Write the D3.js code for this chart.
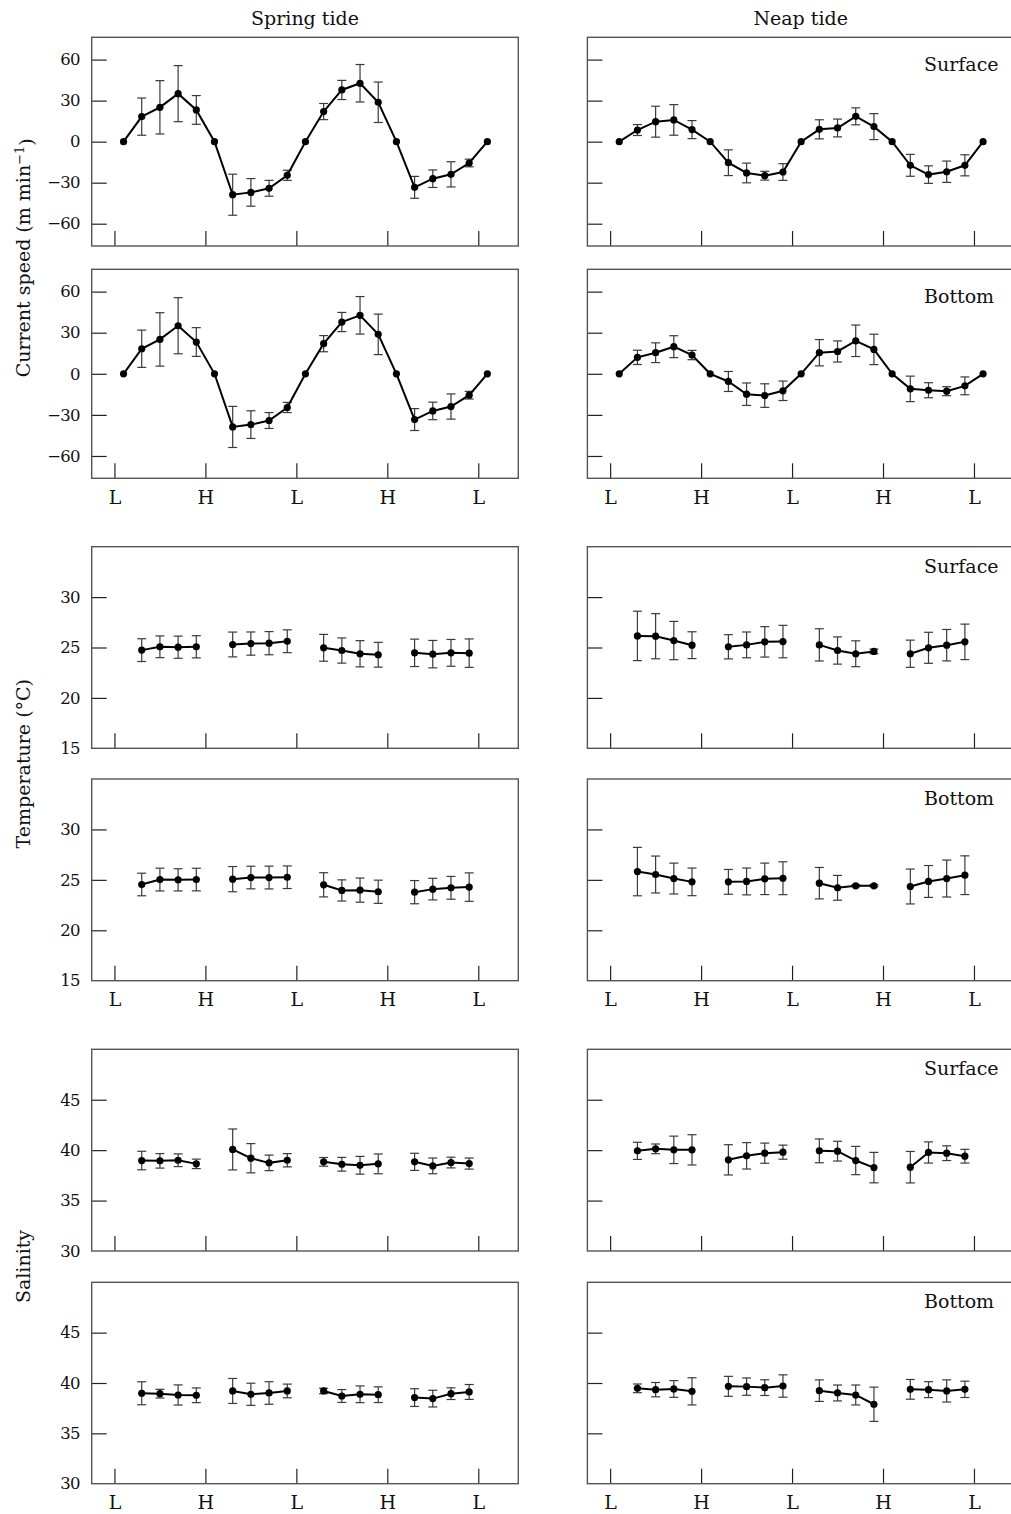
<!DOCTYPE html>
<html><head><meta charset="utf-8">
<script src="https://cdn.jsdelivr.net/npm/d3@7"></script>
<style>
html,body{margin:0;padding:0;background:#fff;}
svg{display:block;}
text{font-family:"DejaVu Serif",serif;fill:#111;}
</style></head>
<body>
<svg id="chart" width="1011" height="1514"></svg>
<script>
// ---------------- DATA ----------------
const columnTitles = ["Spring tide", "Neap tide"];
const depthLabels = ["Surface", "Bottom"];
const tideTickValues = [0, 1, 2, 3, 4];
const tideTickLabels = ["L", "H", "L", "H", "L"];

// tide phase of each hourly speed sample (L = 0, H = 1, ...)
const speedPhase = [0.1,0.3,0.5,0.7,0.9,1.1,1.3,1.5,1.7,1.9,2.1,2.3,2.5,2.7,2.9,3.1,3.3,3.5,3.7,3.9,4.1];

const speedSpringSurface    = [0,18.3,25.1,35.1,23.2,0,-38.8,-37.1,-34.1,-24.6,0,22.0,37.8,42.7,28.8,0,-33.4,-27.1,-23.9,-15.6,0];
const speedSpringSurfaceErr = [0,13.6,19.5,20.5,10.5,0,15.0,10.1,5.8,3.7,0,5.9,7.0,13.7,14.8,0,8.0,6.4,9.2,2.8,0];
const speedSpringBottom     = [0,18.3,25.1,35.1,23.2,0,-38.8,-37.1,-34.1,-24.6,0,22.0,37.8,42.7,28.8,0,-33.4,-27.1,-23.9,-15.6,0];
const speedSpringBottomErr  = [0,13.6,19.5,20.5,10.5,0,15.0,10.1,5.8,3.7,0,5.9,7.0,13.7,14.8,0,8.0,6.4,9.2,2.8,0];
const speedNeapSurface      = [0,8.5,14.6,15.9,8.8,0,-15.4,-22.9,-24.9,-22.2,0,9.0,10.0,18.5,11.0,0,-17.3,-24.1,-22.0,-17.3,0];
const speedNeapSurfaceErr   = [0,4.0,11.3,11.2,6.6,0,9.4,7.2,3.2,6.1,0,7.0,6.5,6.2,9.5,0,8.0,6.4,7.8,7.7,0];
const speedNeapBottom       = [0,12.0,15.4,19.8,13.7,0,-5.6,-14.9,-15.9,-12.4,0,15.4,16.3,24.1,17.8,0,-11.0,-12.0,-12.7,-8.8,0];
const speedNeapBottomErr    = [0,5.2,7.2,8.0,3.4,0,7.3,8.2,8.6,7.1,0,9.6,7.7,11.5,11.1,0,9.3,5.5,3.3,6.5,0];

// tide phase of the temperature / salinity samples, in four groups
const tsPhase = [0.3,0.5,0.7,0.9, 1.3,1.5,1.7,1.9, 2.3,2.5,2.7,2.9, 3.3,3.5,3.7,3.9];
const tsGroup = [0,0,0,0, 1,1,1,1, 2,2,2,2, 3,3,3,3];

const tempSpringSurface    = [24.74,25.07,25.03,25.07, 25.30,25.39,25.43,25.62, 24.97,24.70,24.38,24.28, 24.47,24.34,24.47,24.44];
const tempSpringSurfaceErr = [1.13,1.08,1.10,1.10, 1.23,1.15,1.15,1.13, 1.33,1.25,1.30,1.23, 1.36,1.36,1.33,1.41];
const tempNeapSurface      = [26.15,26.12,25.69,25.23, 25.07,25.26,25.56,25.59, 25.26,24.70,24.38,24.61, 24.38,24.97,25.23,25.56];
const tempNeapSurfaceErr   = [2.45,2.24,1.90,1.33, 1.20,1.28,1.51,1.61, 1.60,1.35,1.28,0.23, 1.35,1.54,1.56,1.76];
const tempSpringBottom     = [24.54,25.03,25.00,25.03, 25.07,25.23,25.23,25.26, 24.51,23.95,23.98,23.82, 23.78,24.08,24.21,24.28];
const tempSpringBottomErr  = [1.12,1.13,1.10,1.12, 1.25,1.12,1.13,1.12, 1.20,1.05,1.20,1.15, 1.15,1.07,1.13,1.41];
const tempNeapBottom       = [25.82,25.53,25.13,24.80, 24.80,24.84,25.10,25.16, 24.67,24.21,24.41,24.41, 24.34,24.84,25.13,25.46];
const tempNeapBottomErr    = [2.40,1.83,1.53,1.37, 1.23,1.33,1.56,1.63, 1.56,1.23,0.10,0.10, 1.73,1.58,1.83,1.92];

const salSpringSurface    = [38.97,38.94,39.00,38.64, 40.07,39.20,38.74,39.00, 38.84,38.60,38.50,38.64, 38.84,38.44,38.77,38.67];
const salSpringSurfaceErr = [0.92,0.72,0.63,0.47, 2.03,1.45,0.77,0.66, 0.43,0.68,0.88,0.98, 0.85,0.78,0.53,0.55];
const salNeapSurface      = [39.93,40.13,40.03,40.03, 39.04,39.44,39.70,39.80, 39.93,39.90,38.97,38.27, 38.31,39.77,39.70,39.40];
const salNeapSurfaceErr   = [0.85,0.48,1.36,1.50, 1.50,1.31,1.00,0.70, 1.18,0.98,1.40,1.51, 1.56,1.05,0.73,0.68];
const salSpringBottom     = [38.98,38.94,38.81,38.78, 39.21,38.88,39.01,39.21, 39.21,38.71,38.88,38.84, 38.55,38.45,38.94,39.11];
const salSpringBottomErr  = [1.14,0.43,1.00,0.73, 1.24,1.10,1.12,0.68, 0.27,0.64,0.83,0.78, 0.88,0.83,0.58,0.74];
const salNeapBottom       = [39.47,39.34,39.41,39.17, 39.67,39.64,39.54,39.70, 39.24,39.01,38.81,37.89, 39.37,39.34,39.21,39.37];
const salNeapBottomErr    = [0.43,0.71,0.83,1.35, 0.99,0.86,0.78,1.11, 1.07,0.79,0.99,1.70, 0.98,0.79,1.10,0.81];

const speedTicks = [-60, -30, 0, 30, 60];
const tempTicks = [15, 20, 25, 30];
const salTicks = [30, 35, 40, 45];
const speedDomain = [-76.3, 76.3];
const tempDomain = [15, 35];
const salDomain = [30, 50];
const yTitles = ["Current speed (m min", "Temperature (°C)", "Salinity"];

// ---------------- LAYOUT ----------------
const svg = d3.select("#chart");
const colX = [[91.7, 518.3], [587.4, 1014.0]];
const xDomain = [-0.25, 4.44];
const rowY = [[37.3, 246], [269.3, 478.3], [546.7, 748.3], [779, 980.7], [1049.3, 1251], [1282.3, 1483.7]];

const panels = [
  {row:0,col:0,x:speedPhase,y:speedSpringSurface,e:speedSpringSurfaceErr,dom:speedDomain,ticks:speedTicks,grp:null,lab:null},
  {row:0,col:1,x:speedPhase,y:speedNeapSurface,e:speedNeapSurfaceErr,dom:speedDomain,ticks:speedTicks,grp:null,lab:0},
  {row:1,col:0,x:speedPhase,y:speedSpringBottom,e:speedSpringBottomErr,dom:speedDomain,ticks:speedTicks,grp:null,lab:null},
  {row:1,col:1,x:speedPhase,y:speedNeapBottom,e:speedNeapBottomErr,dom:speedDomain,ticks:speedTicks,grp:null,lab:1},
  {row:2,col:0,x:tsPhase,y:tempSpringSurface,e:tempSpringSurfaceErr,dom:tempDomain,ticks:tempTicks,grp:tsGroup,lab:null},
  {row:2,col:1,x:tsPhase,y:tempNeapSurface,e:tempNeapSurfaceErr,dom:tempDomain,ticks:tempTicks,grp:tsGroup,lab:0},
  {row:3,col:0,x:tsPhase,y:tempSpringBottom,e:tempSpringBottomErr,dom:tempDomain,ticks:tempTicks,grp:tsGroup,lab:null},
  {row:3,col:1,x:tsPhase,y:tempNeapBottom,e:tempNeapBottomErr,dom:tempDomain,ticks:tempTicks,grp:tsGroup,lab:1},
  {row:4,col:0,x:tsPhase,y:salSpringSurface,e:salSpringSurfaceErr,dom:salDomain,ticks:salTicks,grp:tsGroup,lab:null},
  {row:4,col:1,x:tsPhase,y:salNeapSurface,e:salNeapSurfaceErr,dom:salDomain,ticks:salTicks,grp:tsGroup,lab:0},
  {row:5,col:0,x:tsPhase,y:salSpringBottom,e:salSpringBottomErr,dom:salDomain,ticks:salTicks,grp:tsGroup,lab:null},
  {row:5,col:1,x:tsPhase,y:salNeapBottom,e:salNeapBottomErr,dom:salDomain,ticks:salTicks,grp:tsGroup,lab:1}
];

const frameColor = "#555";
panels.forEach(p => {
  const [x0, x1] = colX[p.col];
  const [y0, y1] = rowY[p.row];
  const xs = d3.scaleLinear().domain(xDomain).range([x0, x1]);
  const ys = d3.scaleLinear().domain(p.dom).range([y1, y0]);
  const g = svg.append("g");

  // y axis (ticks inside)
  const yAxis = d3.axisLeft(ys).tickValues(p.ticks).tickSizeInner(-15).tickSizeOuter(0).tickPadding(12)
    .tickFormat(p.col === 0 ? d3.format("d") : () => "");
  const ya = g.append("g").attr("transform", `translate(${x0},0)`).call(yAxis);
  ya.select(".domain").remove();
  ya.selectAll(".tick line").attr("stroke", "#222").attr("stroke-width", 1.2)
    .filter(d => d === p.dom[0]).remove();
  ya.selectAll(".tick text").style("font-family", "DejaVu Serif").style("font-size", "16.5px")
    .style("letter-spacing", "-0.8px").attr("fill", "#111");

  // x axis (ticks inside)
  const bottomRow = p.row % 2 === 1;
  const xAxis = d3.axisBottom(xs).tickValues(tideTickValues).tickSizeInner(-15).tickSizeOuter(0).tickPadding(12)
    .tickFormat((d, i) => bottomRow ? tideTickLabels[i] : "");
  const xa = g.append("g").attr("transform", `translate(0,${y1})`).call(xAxis);
  xa.select(".domain").remove();
  xa.selectAll(".tick line").attr("stroke", "#222").attr("stroke-width", 1.2);
  xa.selectAll(".tick text").style("font-family", "DejaVu Serif").style("font-size", "19px").attr("fill", "#111");

  // frame
  g.append("rect").attr("x", x0).attr("y", y0).attr("width", x1 - x0).attr("height", y1 - y0)
    .attr("fill", "none").attr("stroke", frameColor).attr("stroke-width", 1.4);

  const pts = p.x.map((xv, i) => ({x: xv, y: p.y[i], e: p.e[i], g: p.grp ? p.grp[i] : 0}));

  // error bars
  const eb = g.append("g").attr("stroke", "#3a3a3a").attr("stroke-width", 1.2).attr("fill", "none");
  pts.filter(d => d.e > 0).forEach(d => {
    const cx = xs(d.x), ty = ys(d.y + d.e), by = ys(d.y - d.e);
    eb.append("line").attr("x1", cx).attr("x2", cx).attr("y1", ty).attr("y2", by);
    eb.append("line").attr("x1", cx - 4.5).attr("x2", cx + 4.5).attr("y1", ty).attr("y2", ty);
    eb.append("line").attr("x1", cx - 4.5).attr("x2", cx + 4.5).attr("y1", by).attr("y2", by);
  });

  // lines
  const line = d3.line().x(d => xs(d.x)).y(d => ys(d.y));
  const groups = d3.groups(pts, d => d.g);
  groups.forEach(([k, arr]) => {
    g.append("path").attr("d", line(arr)).attr("fill", "none").attr("stroke", "#000").attr("stroke-width", 2);
  });

  // dots
  g.selectAll("circle.pt").data(pts).enter().append("circle")
    .attr("cx", d => xs(d.x)).attr("cy", d => ys(d.y)).attr("r", 3.6).attr("fill", "#000");

  // depth label
  if (p.lab !== null) {
    const off = p.row < 2 ? 34 : 26;
    g.append("text").attr("x", 924).attr("y", y0 + off).style("font-size", "19px").text(depthLabels[p.lab]);
  }
});

// column titles
columnTitles.forEach((t, i) => {
  svg.append("text").attr("x", (colX[i][0] + colX[i][1]) / 2).attr("y", 25)
    .attr("text-anchor", "middle").style("font-size", "19px").text(t);
});

// y titles
const yTitleCenters = [(rowY[0][0] + rowY[1][1]) / 2, (rowY[2][0] + rowY[3][1]) / 2, (rowY[4][0] + rowY[5][1]) / 2];
yTitles.forEach((t, i) => {
  const tx = svg.append("text").attr("transform", `translate(30,${yTitleCenters[i]}) rotate(-90)`)
    .attr("text-anchor", "middle").style("font-size", "19px");
  tx.append("tspan").text(t);
  if (i === 0) {
    tx.append("tspan").attr("dy", "-0.5em").style("font-size", "13px").text("−1");
    tx.append("tspan").attr("dy", "0.5em").text(")");
  }
});
</script>
</body></html>
